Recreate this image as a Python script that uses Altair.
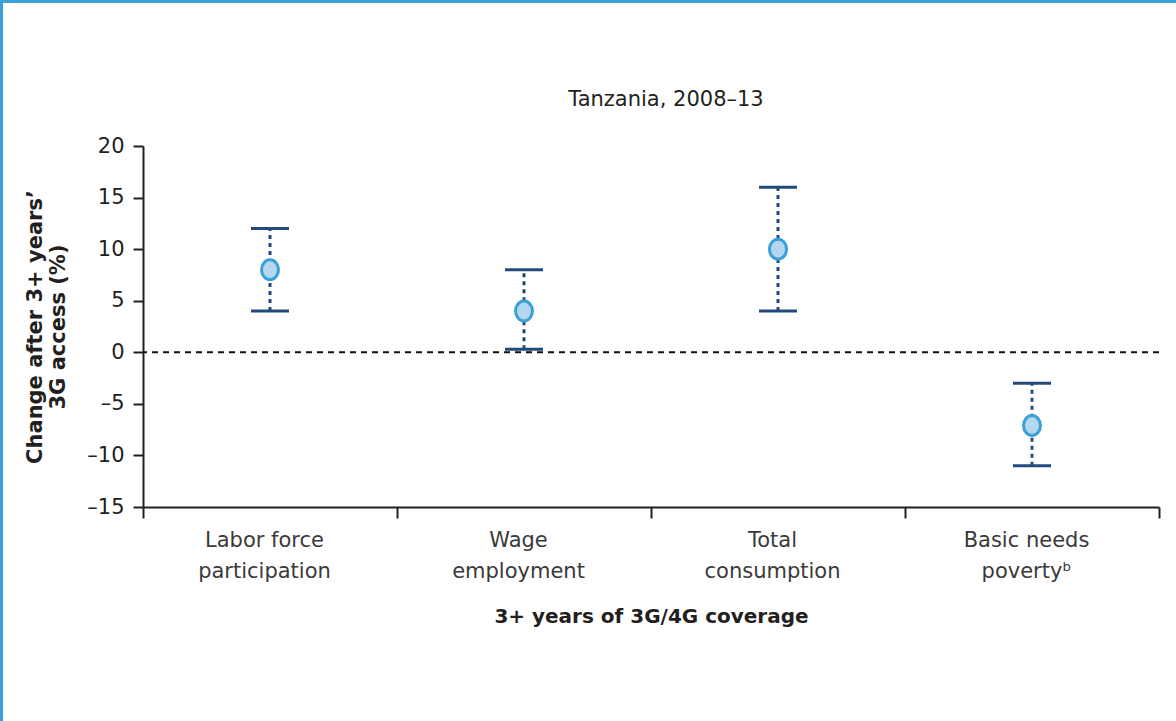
import altair as alt
import pandas as pd

# Point estimates and confidence bounds (%) by outcome
categories = [
    "Labor force|participation",
    "Wage|employment",
    "Total|consumption",
    "Basic needs|povertyᵇ",
]
estimates = [8.0, 4.0, 10.0, -7.1]
lower = [4.0, 0.3, 4.0, -11.0]
upper = [12.0, 8.0, 16.0, -3.0]
y_ticks = [-15, -10, -5, 0, 5, 10, 15, 20]
chart_title = "Tanzania, 2008–13"

df = pd.DataFrame({"outcome": categories, "estimate": estimates,
                   "lower": lower, "upper": upper})

W, H = 1016, 361
PAD_L, PAD_T = 143, 146
TOTAL_W, TOTAL_H = 1176, 721
FONT = "DejaVu Sans"
INK = "#231f20"
NAVY = "#234a7d"
BORDER = "#3aa0d5"

x_enc = alt.X(
    "outcome:N",
    sort=categories,
    scale=alt.Scale(paddingInner=0, paddingOuter=0),
    axis=alt.Axis(
        title="3+ years of 3G/4G coverage",
        labelAngle=0,
        labelExpr="split(datum.label, '|')",
        labelLineHeight=31,
        labelFontSize=21,
        labelFont=FONT,
        labelColor="#3a3a3a",
        labelPadding=11,
        labelOffset=-6,
        tickBand="extent",
        tickSize=11,
        tickWidth=2,
        tickColor=INK,
        domainWidth=2,
        domainColor=INK,
        titleFont=FONT,
        titleFontSize=20,
        titleFontWeight="bold",
        titleColor=INK,
        titleY=109,
        titleBaseline="middle",
    ),
)

y_scale = alt.Scale(domain=[-15, 20], nice=False, zero=False)
y_axis = alt.Axis(
    title=["Change after 3+ years’", "3G access (%)"],
    values=y_ticks,
    format="d",
    labelExpr="replace(datum.label, '−', '–')",
    grid=False,
    labelFont=FONT,
    labelFontSize=21,
    labelColor=INK,
    labelPadding=9,
    tickSize=10,
    tickWidth=2,
    tickColor=INK,
    domainWidth=2,
    domainColor=INK,
    titleFont=FONT,
    titleFontSize=21,
    titleFontWeight="bold",
    titleColor=INK,
    titleAngle=-90,
    titleX=-108,
    titleY=H / 2,
    titleAlign="center",
    titleBaseline="middle",
    titleLineHeight=23,
)

base = alt.Chart(df)

# dotted confidence interval
interval = base.mark_rule(color=NAVY, strokeWidth=3, strokeDash=[4, 4]).encode(
    x=x_enc,
    y=alt.Y("lower:Q", scale=y_scale, axis=y_axis),
    y2="upper:Q",
)

# horizontal caps at both bounds
cap_low = base.mark_tick(color=NAVY, orient="horizontal", size=38, thickness=3, opacity=1).encode(
    x=x_enc, y=alt.Y("lower:Q", scale=y_scale, axis=y_axis)
)
cap_high = base.mark_tick(color=NAVY, orient="horizontal", size=38, thickness=3, opacity=1).encode(
    x=x_enc, y=alt.Y("upper:Q", scale=y_scale, axis=y_axis)
)

# zero reference line
zero = alt.Chart(pd.DataFrame({"z": [0]})).mark_rule(
    color="#111111", strokeWidth=2, strokeDash=[6, 5]
).encode(y=alt.datum(0))

# point estimate marker (slightly tall ellipse)
ellipse = "M -0.85 0 A 0.85 1 0 1 0 0.85 0 A 0.85 1 0 1 0 -0.85 0 Z"
points = base.mark_point(
    shape=ellipse, size=400, filled=True, fill="#b3d7ec",
    stroke="#3aa0d5", strokeWidth=3, opacity=1,
).encode(x=x_enc, y=alt.Y("estimate:Q", scale=y_scale, axis=y_axis))

# single-row source for the decorative layers
deco_data = alt.Data(values=[{"k": 1}])

# heading above the plot
heading = alt.Chart(deco_data).mark_text(
    font=FONT, fontSize=21, color=INK, align="center", baseline="alphabetic"
).encode(
    x=alt.value(W / 2 + 15), y=alt.value(-40), text=alt.value(chart_title)
)

# page frame strips along the top and left edges
frame_left = alt.Chart(deco_data).mark_rule(color=BORDER, strokeWidth=3).encode(
    x=alt.value(-PAD_L + 1.5), y=alt.value(-PAD_T), y2=alt.value(TOTAL_H - PAD_T)
)
frame_top = alt.Chart(deco_data).mark_rule(color=BORDER, strokeWidth=3).encode(
    y=alt.value(-PAD_T + 1.5), x=alt.value(-PAD_L), x2=alt.value(TOTAL_W - PAD_L)
)

chart = alt.layer(
    zero, interval, cap_low, cap_high, points, heading, frame_left, frame_top
).properties(
    width=W,
    height=H,
    autosize=alt.AutoSizeParams(type="none"),
    padding={"left": PAD_L, "top": PAD_T, "right": TOTAL_W - PAD_L - W,
             "bottom": TOTAL_H - PAD_T - H},
    background="white",
).configure_view(stroke=None)

chart.save("out.html", embed_options={"renderer": "svg", "actions": False})
